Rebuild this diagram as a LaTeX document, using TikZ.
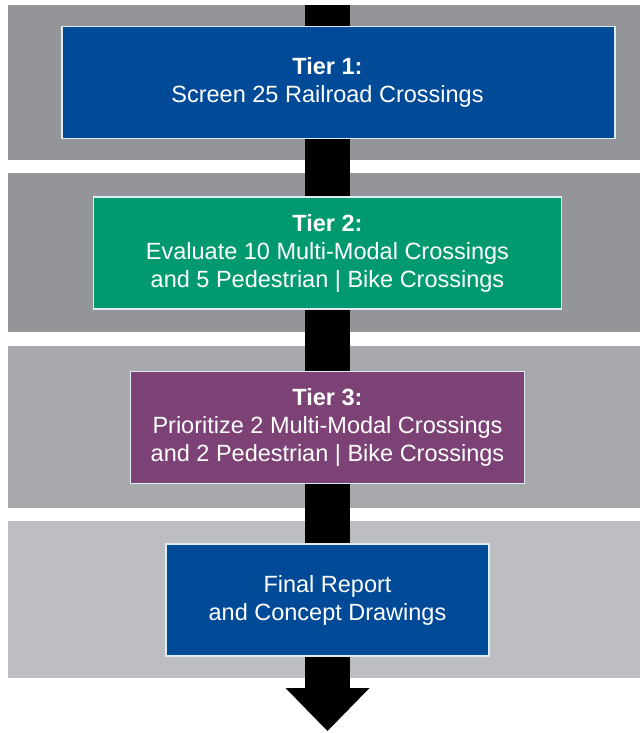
\documentclass[tikz,border=0pt]{standalone}
\usepackage{fontspec}
\setmainfont{Liberation Sans}
\usetikzlibrary{arrows.meta}
\definecolor{banddark}{RGB}{147,149,152}
\definecolor{bandmid}{RGB}{167,169,172}
\definecolor{bandlight}{RGB}{188,190,193}
\definecolor{tierblue}{RGB}{0,74,152}
\definecolor{tiergreen}{RGB}{0,153,112}
\definecolor{tierpurple}{RGB}{124,66,117}
\definecolor{boxedge}{RGB}{222,236,242}
\tikzset{
	tiertext/.style={text=white,align=center,font=\fontsize{23.5}{28}\selectfont},
	tierbox/.style={tiertext,draw=boxedge,line width=1.2pt,minimum height=112pt,inner sep=0pt}
}
\begin{document}
\begin{tikzpicture}[x=1pt,y=-1pt]
	\useasboundingbox (0,0) rectangle (640,733);
	\foreach \ytop/\ybot/\col in {5/160/banddark,173/332/banddark,346/508/bandmid,521/678/bandlight}
		\fill[\col] (8,\ytop) rectangle (640,\ybot);
	\coordinate (top) at (327.5,5);
	\coordinate (tip) at (327.5,731);
	\draw[line width=45pt,-{Triangle[width=84pt,length=43pt,line width=0pt]}] (top) -- (tip);
	\node[tierbox,fill=tierblue,minimum width=553pt] (tier1) at (338.5,82.5) {};
	\node[tiertext] (tier1label) at (327.5,82.5) {\textbf{Tier 1:}\\Screen 25 Railroad Crossings};
	\node[tierbox,fill=tiergreen,minimum width=468pt] (tier2) at (327.5,253)
		{\textbf{Tier 2:}\\Evaluate 10 Multi-Modal Crossings\\ and 5 Pedestrian | Bike Crossings};
	\node[tierbox,fill=tierpurple,minimum width=394pt] (tier3) at (327.5,427.5)
		{\textbf{Tier 3:}\\Prioritize 2 Multi-Modal Crossings\\and 2 Pedestrian | Bike Crossings};
	\node[tierbox,fill=tierblue,minimum width=323pt] (report) at (327.5,600)
		{Final Report\\and Concept Drawings};
\end{tikzpicture}
\end{document}
